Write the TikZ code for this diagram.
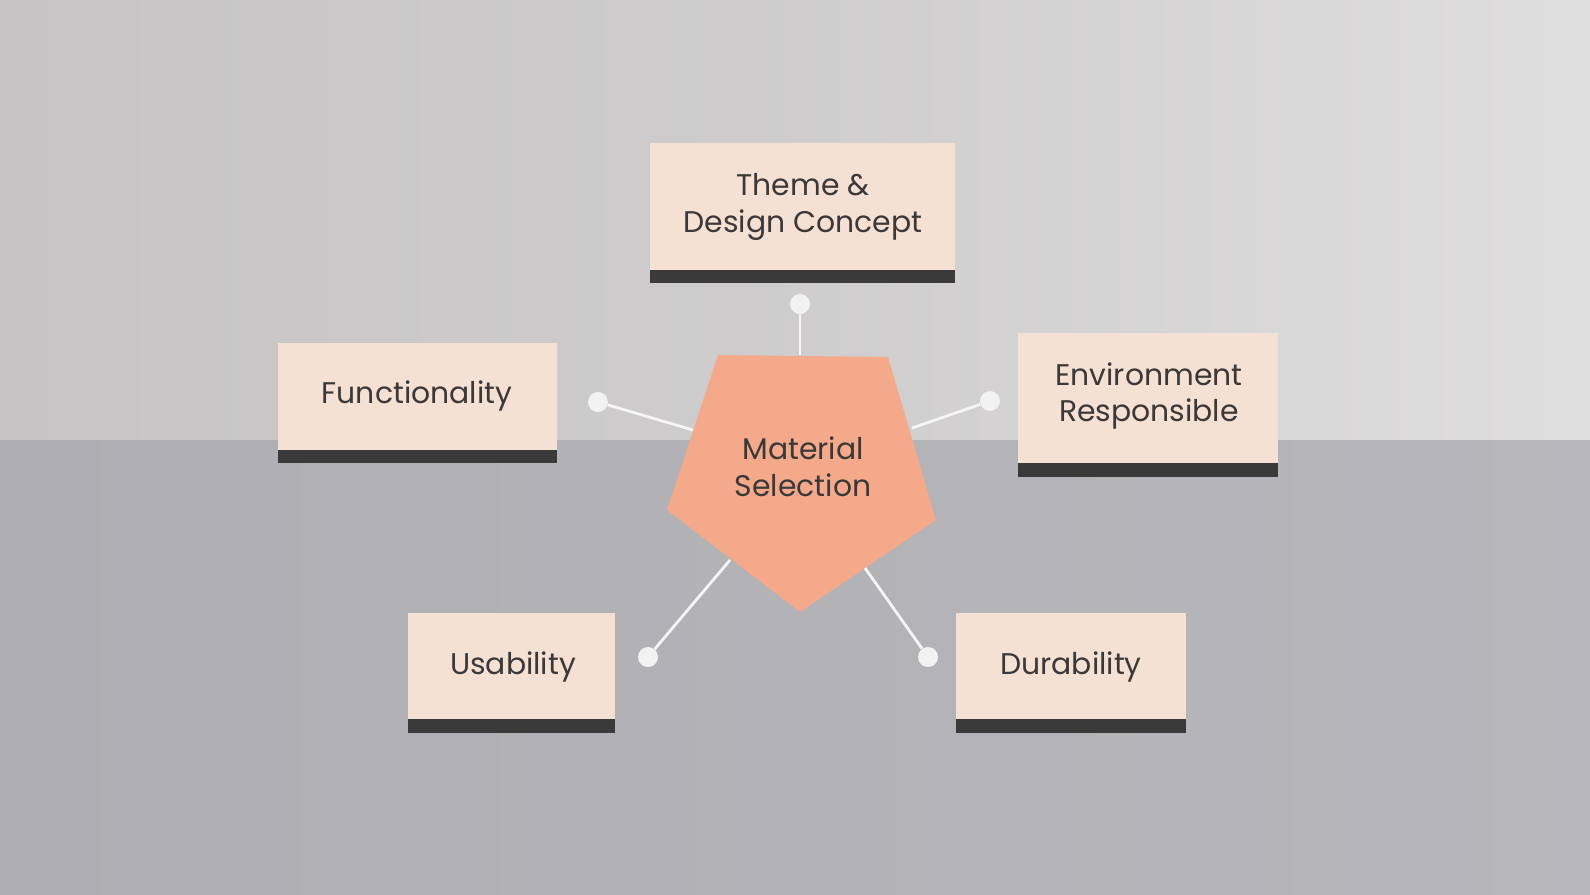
\documentclass[tikz,border=0pt]{standalone}
\usepackage{fontspec}
\setmainfont{Poppins}
\begin{document}
\begin{tikzpicture}[x=0.02cm,y=-0.02cm,
  box/.style={fill=boxc,draw=none},
  strip/.style={fill=stripc,draw=none},
  lbl/.style={text=txt,font=\fontsize{17}{21}\selectfont,align=center},
  conn/.style={draw=white!92!gray,line width=1.6pt},
  dot/.style={circle,fill=white!90!gray,minimum size=0.4cm,inner sep=0pt}]
\definecolor{boxc}{HTML}{F5E0D4}
\definecolor{stripc}{HTML}{3B3A3A}
\definecolor{txt}{HTML}{3A3838}
\definecolor{pent}{HTML}{F4A98A}
\definecolor{bgtop}{HTML}{C6C4C4}
\definecolor{bgbot}{HTML}{AFAEB2}
\useasboundingbox (0,0) rectangle (1590,894);
\shade[left color=bgtop, right color=white!45!bgtop, middle color=bgtop!85!white] (0,0) rectangle (1590,440);
\shade[left color=bgbot, right color=bgbot!90!white] (0,440) rectangle (1590,894);
% pentagon
\fill[pent] (718,355) -- (888,357) -- (936,520) -- (800,612) -- (667,510) -- cycle;
\node[lbl] (ms) at (803,467) {Material\\Selection};
% boxes
\fill[box] (650,143) rectangle (955,270); \fill[strip] (650,270) rectangle (955,283);
\node[lbl] (tc) at (803,207) {Theme \&\\Design Concept};
\fill[box] (278,343) rectangle (557,450); \fill[strip] (278,450) rectangle (557,463);
\node[lbl] (fn) at (417,396) {Functionality};
\fill[box] (1018,333) rectangle (1278,463); \fill[strip] (1018,463) rectangle (1278,477);
\node[lbl] (en) at (1149,396) {Environment\\Responsible};
\fill[box] (408,613) rectangle (615,719); \fill[strip] (408,719) rectangle (615,733);
\node[lbl] (us) at (513,667) {Usability};
\fill[box] (956,613) rectangle (1186,719); \fill[strip] (956,719) rectangle (1186,733);
\node[lbl] (du) at (1071,667) {Durability};
% connectors
\node[dot] (d1) at (800,304) {}; \coordinate (e1) at (800,355);
\node[dot] (d2) at (598,402) {}; \coordinate (e2) at (693,430);
\node[dot] (d3) at (990,401) {}; \coordinate (e3) at (912,428);
\node[dot] (d4) at (648,657) {}; \coordinate (e4) at (730,560);
\node[dot] (d5) at (928,657) {}; \coordinate (e5) at (865,568);
\foreach \i in {1,...,5} {\draw[conn] (d\i) -- (e\i);}
\end{tikzpicture}
\end{document}
